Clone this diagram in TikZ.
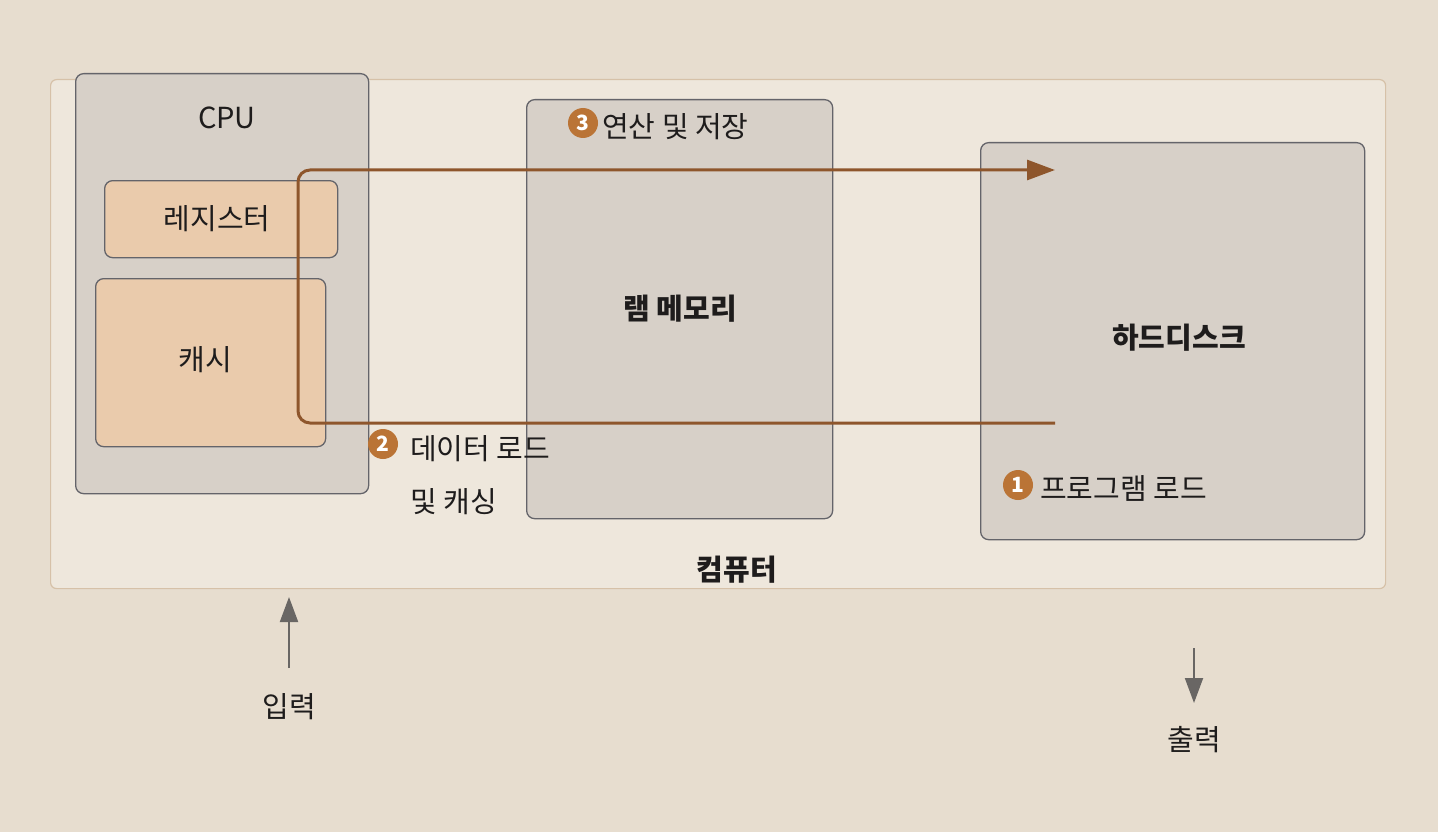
\documentclass[tikz,border=0pt]{standalone}
\usepackage{fontspec}
\setmainfont{Noto Sans CJK KR}
\usetikzlibrary{arrows.meta}
\definecolor{page}{RGB}{231,221,207}
\definecolor{outerfill}{RGB}{238,231,220}
\definecolor{outerline}{RGB}{214,193,168}
\definecolor{greyfill}{RGB}{215,208,200}
\definecolor{greyline}{RGB}{100,100,106}
\definecolor{peach}{RGB}{234,203,172}
\definecolor{flowc}{RGB}{142,86,44}
\definecolor{badgec}{RGB}{186,116,54}
\definecolor{ioc}{RGB}{105,102,100}
\definecolor{txt}{RGB}{30,28,28}
\begin{document}
\begin{tikzpicture}[x=1pt,y=-1pt,
  every node/.style={font=\fontsize{29}{34}\selectfont, text=txt},
  outerbox/.style={draw=outerline, line width=1.2pt, fill=outerfill, rounded corners=6pt, anchor=north west, inner sep=0pt},
  unitbox/.style={draw=greyline, line width=1.3pt, fill=greyfill, rounded corners=8pt, anchor=north west, inner sep=0pt},
  subbox/.style={draw=greyline, line width=1.3pt, fill=peach, rounded corners=8pt, anchor=north west, inner sep=0pt},
  boldlbl/.style={font=\bfseries\fontsize{29}{34}\selectfont},
  badge/.style={circle, fill=badgec, text=white, inner sep=0pt, minimum size=30pt, font=\bfseries\fontsize{21}{22}\selectfont},
  steplbl/.style={anchor=west, inner sep=0pt},
  flow/.style={draw=flowc, line width=3pt, rounded corners=12pt, -{Triangle[length=28pt,width=20pt]}},
  io/.style={draw=ioc, line width=2pt, -{Triangle[length=25pt,width=18pt]}}
]
\useasboundingbox (0,0) rectangle (1438,832);
\fill[page] (0,0) rectangle (1438,832);

% outer computer box
\node[outerbox, minimum width=1335pt, minimum height=509pt] (comp) at (50,79) {};

% CPU
\node[unitbox, minimum width=293pt, minimum height=420pt] (cpu) at (75,73) {};
\node[subbox, minimum width=233pt, minimum height=77pt] (reg) at (104,180) {};
\node[subbox, minimum width=230pt, minimum height=168pt] (cache) at (95,278) {};

% RAM
\node[unitbox, minimum width=306pt, minimum height=419pt] (ram) at (526,99) {};

% HDD
\node[unitbox, minimum width=384pt, minimum height=397pt] (hdd) at (980,142) {};

% flow path
\coordinate (pstart) at (1055,423);
\coordinate (turn) at (298,170);
\coordinate (pend) at (1055,170);
\draw[flow] (pstart) -| (turn) -- (pend);

% labels
\node (cpulbl) at (227,118) {CPU};
\node (reglbl) at (217,219) {레지스터};
\node (cachelbl) at (205,360) {캐시};
\node[boldlbl] (ramlbl) at (680,309) {램 메모리};
\node[boldlbl] (hddlbl) at (1179,338) {하드디스크};
\node[boldlbl] (complbl) at (737,570) {컴퓨터};

\node[badge] (b3) at (583,123) {3};
\node[steplbl] (t3) at (602,127) {연산 및 저장};
\node[badge] (b2) at (383,444) {2};
\node[steplbl] (t2a) at (410,449) {데이터 로드};
\node[steplbl] (t2b) at (410,502) {및 캐싱};
\node[badge] (b1) at (1018,485) {1};
\node[steplbl] (t1) at (1040,488) {프로그램 로드};

% input / output
\coordinate (inbot) at (289,668);
\coordinate (intop) at (289,597);
\draw[io] (inbot) -- (intop);
\node (inlbl) at (289,707) {입력};
\coordinate (outtop) at (1194,648);
\coordinate (outbot) at (1194,703);
\draw[io] (outtop) -- (outbot);
\node (outlbl) at (1194,740) {출력};
\end{tikzpicture}
\end{document}
